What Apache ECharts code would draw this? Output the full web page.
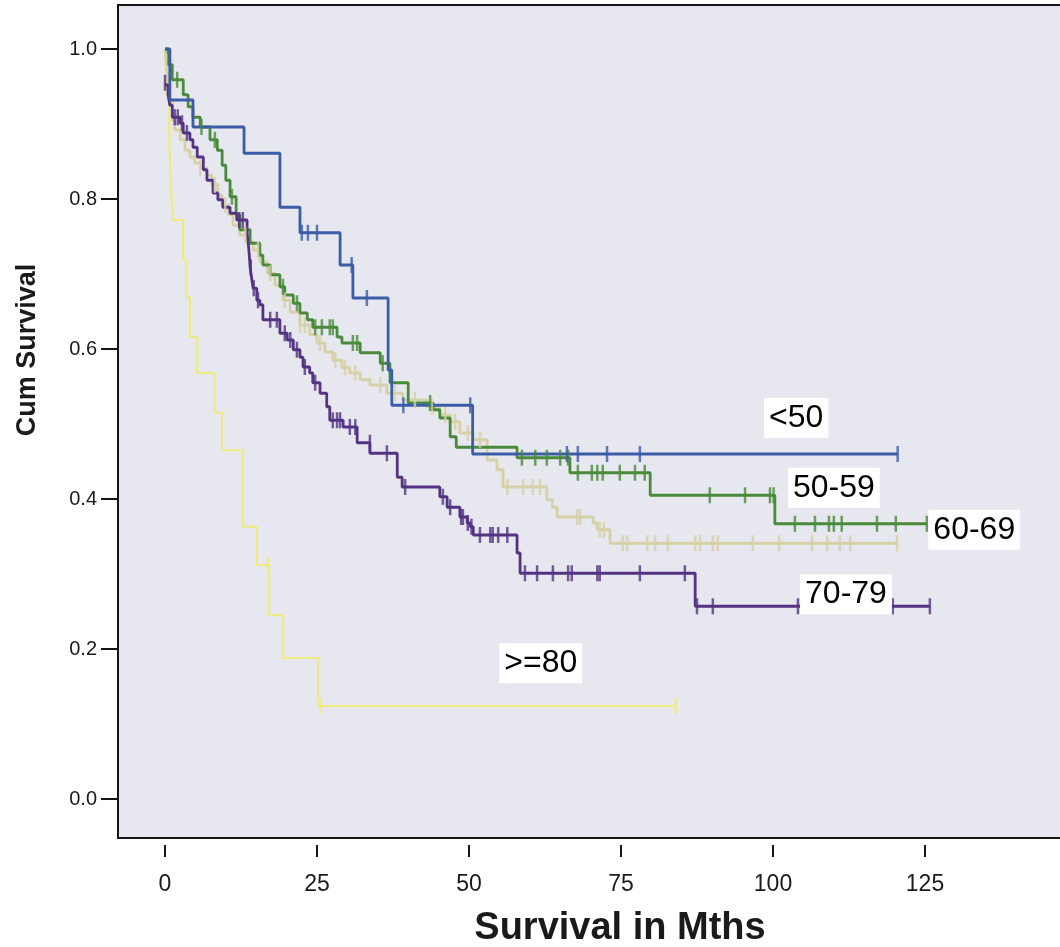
<!DOCTYPE html>
<html>
<head>
<meta charset="utf-8">
<script src="https://cdn.jsdelivr.net/npm/echarts@6/dist/echarts.min.js"></script>
<style>
html, body { margin: 0; background: #fff; }
#km { width: 1060px; height: 947px; }
</style>
</head>
<body>
<div id="km"></div>
<script>
// Kaplan-Meier steps: [month, cum survival from that month on]
var under50Steps = [[0, 1.0], [0.8, 0.932], [4.6, 0.896], [13.0, 0.861], [18.9, 0.789], [22.2, 0.755], [28.8, 0.712], [30.9, 0.668], [36.7, 0.572], [37.3, 0.525], [50.6, 0.46]]
var under50End = 120.5
var under50Cens = [[22.5, .755], [23.5, .755], [25.0, .755], [30.7, .712], [33.2, .668], [39.2, .525], [50.2, .525], [66.1, .46], [67.9, .46], [72.7, .46], [78.1, .46], [120.5, .46]]

var g5059Steps = [[0, 1.0], [0.5, .979], [1.2, .959], [3.0, .939], [3.8, .923], [4.6, .909], [5.8, .896], [7.4, .879], [8.6, .865], [9.4, .845], [10.0, .825], [10.7, .803], [11.7, .779], [12.3, .759], [14.0, .741], [15.6, .725], [16.1, .712], [17.3, .699], [18.9, .683], [19.7, .672], [21.1, .661], [22.2, .648], [23.4, .639], [24.3, .629], [28.3, .616], [29.1, .608], [32.1, .595], [35.4, .581], [37.0, .555], [40.0, .528], [44.1, .519], [45.2, .508], [46.9, .483], [47.9, .469], [57.9, .455], [66.6, .435], [79.8, .405], [100.3, .367]]
var g5059End = 125.3
var g5059Cens = [[2.0, .959], [6.0, .896], [8.2, .879], [11.0, .803], [19.4, .683], [21.7, .661], [24.7, .629], [25.8, .629], [27.1, .629], [27.6, .629], [30.9, .608], [31.6, .608], [35.8, .581], [43.6, .528], [58.7, .455], [60.9, .455], [62.8, .455], [65.0, .455], [66.3, .455], [67.9, .435], [70.2, .435], [71.1, .435], [72.0, .435], [74.8, .435], [77.3, .435], [78.9, .435], [89.6, .405], [95.4, .405], [99.5, .405], [100.1, .405], [103.6, .367], [106.9, .367], [109.2, .367], [110.0, .367], [111.3, .367], [117.1, .367], [120.2, .367], [125.3, .367]]

var g6069Steps = [[0, 1.0], [0.2, .983], [0.5, .959], [0.8, .932], [1.2, .905], [1.6, .892], [2.5, .879], [3.3, .865], [4.1, .856], [4.9, .848], [5.8, .841], [6.9, .832], [7.7, .819], [8.7, .805], [9.4, .792], [10.4, .779], [11.2, .765], [12.3, .752], [13.5, .743], [14.5, .732], [15.6, .716], [16.8, .701], [18.1, .685], [19.4, .665], [20.6, .649], [22.2, .632], [23.8, .619], [25.0, .608], [26.3, .596], [27.6, .585], [29.1, .575], [30.4, .568], [32.1, .559], [33.7, .552], [36.5, .541], [39.1, .532], [43.1, .523], [45.2, .512], [46.9, .503], [48.5, .488], [50.7, .479], [53.0, .452], [54.6, .439], [55.6, .416], [62.8, .399], [63.7, .389], [64.5, .376], [70.4, .368], [71.1, .359], [73.2, .341]]
var g6069End = 120.4
var g6069Cens = [[0.2, .983], [5.8, .841], [8.2, .819], [9.9, .792], [13.2, .752], [15.3, .732], [17.3, .701], [19.7, .665], [22.2, .632], [23.0, .632], [25.5, .608], [28.0, .585], [29.6, .575], [31.3, .568], [35.4, .552], [37.8, .541], [41.1, .532], [43.9, .523], [46.1, .512], [47.7, .503], [49.8, .488], [51.8, .479], [56.3, .416], [58.9, .416], [60.5, .416], [61.7, .416], [67.8, .376], [68.3, .376], [71.5, .359], [72.2, .359], [75.3, .341], [76.0, .341], [79.3, .341], [80.6, .341], [82.7, .341], [87.2, .341], [88.0, .341], [90.1, .341], [90.9, .341], [96.7, .341], [101.0, .341], [106.4, .341], [108.9, .341], [111.0, .341], [112.7, .341], [120.4, .341]]

var g7079Steps = [[0, .952], [0.5, .939], [0.8, .925], [1.2, .909], [2.5, .901], [3.0, .888], [4.1, .879], [4.6, .869], [5.3, .856], [6.3, .839], [6.9, .825], [7.9, .808], [8.7, .799], [9.5, .789], [10.7, .781], [11.8, .772], [13.5, .755], [13.8, .732], [14.0, .709], [14.3, .692], [14.5, .681], [15.1, .665], [15.6, .659], [16.1, .639], [18.9, .621], [20.1, .612], [21.1, .599], [22.2, .589], [22.7, .576], [23.8, .568], [24.3, .555], [25.5, .541], [26.6, .523], [27.1, .505], [29.3, .496], [31.6, .475], [33.7, .461], [38.2, .429], [39.0, .416], [45.2, .403], [46.4, .389], [48.5, .376], [49.7, .368], [50.2, .363], [50.7, .352], [57.9, .328], [58.4, .301], [87.2, .257]]
var g7079End = 125.8
var g7079Cens = [[0, .955], [1.6, .909], [2.1, .909], [2.8, .901], [3.6, .888], [12.2, .772], [12.8, .772], [14.1, .709], [14.6, .681], [15.3, .665], [17.3, .639], [18.4, .639], [19.7, .621], [20.6, .612], [21.7, .599], [23.0, .576], [24.7, .555], [27.6, .505], [28.3, .505], [28.8, .505], [30.4, .496], [31.3, .496], [33.7, .475], [36.5, .461], [39.5, .416], [45.7, .403], [46.9, .389], [48.7, .376], [49.0, .376], [49.8, .368], [50.4, .363], [51.8, .352], [53.5, .352], [53.9, .352], [54.8, .352], [56.3, .352], [59.2, .301], [61.2, .301], [63.8, .301], [66.3, .301], [66.9, .301], [71.1, .301], [71.5, .301], [78.1, .301], [85.5, .301], [87.5, .257], [90.1, .257], [104.1, .257], [119.7, .257], [125.8, .257]]

var ge80Steps = [[0, 1.0], [0.3, .937], [0.7, .875], [1.0, .812], [1.3, .772], [3.0, .719], [3.5, .669], [4.1, .616], [5.3, .568], [8.2, .515], [9.4, .465], [12.8, .363], [15.1, .312], [17.1, .245], [19.4, .188], [25.2, .124]]
var ge80End = 84.0
var ge80Cens = [[16.9, .312], [25.6, .124], [84.0, .124]]

// group labels placed on the plot [month, survival]
var groupLabels = ['<50', '50-59', '60-69', '70-79', '>=80']
var labelPos = [[103.8, .508], [110.0, .415], [133.1, .359], [112.0, .273], [61.8, .181]]

var xTicks = [0, 25, 50, 75, 100, 125]
var yTicks = [0, 0.2, 0.4, 0.6, 0.8, 1.0]

var xMin = -7.73, xMax = 147.2
var yMin = -0.052, yMax = 1.0587

function kmSeries(name, steps, end, cens, color, width) {
    let last = steps[steps.length - 1][1]
    return [
        {
            name: name,
            type: 'line',
            step: 'end',
            showSymbol: false,
            data: steps.concat([[end, last]]),
            lineStyle: { color: color, width: width },
            z: 2
        },
        {
            name: name,
            type: 'scatter',
            symbol: 'rect',
            symbolSize: [2.5, 16],
            data: cens,
            itemStyle: { color: color },
            z: 2
        }
    ]
}

var dom = document.getElementById('km')
var myChart = echarts.init(dom)

var series = []
    .concat(kmSeries('>=80', ge80Steps, ge80End, ge80Cens, '#efeb7e', 2.2))
    .concat(kmSeries('60-69', g6069Steps, g6069End, g6069Cens, '#d6d1a6', 2.8))
    .concat(kmSeries('50-59', g5059Steps, g5059End, g5059Cens, '#4a8b3b', 2.8))
    .concat(kmSeries('70-79', g7079Steps, g7079End, g7079Cens, '#553383', 2.8))
    .concat(kmSeries('<50', under50Steps, under50End, under50Cens, '#3b5ca7', 2.8))

series.push({
    type: 'scatter',
    symbolSize: 0,
    itemStyle: { color: '#ffffff', opacity: 1 },
    data: labelPos.map(function (p, i) { return [p[0], p[1], groupLabels[i]] }),
    label: {
        show: true,
        position: 'inside',
        formatter: function (p) { return p.value[2] },
        fontFamily: 'Liberation Sans, Arial, sans-serif',
        fontSize: 32,
        color: '#000000',
        opacity: 1,
        backgroundColor: '#ffffff',
        padding: [5, 5, 3, 5]
    },
    emphasis: { disabled: true },
    z: 5
})

var frameLine = { show: true, onZero: false, lineStyle: { color: '#151515', width: 2 } }

var option = {
    animation: false,
    backgroundColor: '#ffffff',
    grid: {
        left: 118, top: 5, right: 0, bottom: 109,
        show: true,
        backgroundColor: '#e6e7ef',
        borderWidth: 0
    },
    xAxis: [
        {
            type: 'value',
            min: xMin,
            max: xMax,
            position: 'bottom',
            offset: 7,
            axisLine: { show: false, onZero: false },
            splitLine: { show: false },
            axisTick: { show: true, length: 12, customValues: xTicks, lineStyle: { color: '#151515', width: 2 } },
            axisLabel: {
                customValues: xTicks,
                margin: 28,
                fontFamily: 'Liberation Sans Narrow, Arial Narrow, sans-serif',
                fontSize: 23,
                color: '#1a1a1a'
            }
        },
        {
            type: 'value', min: xMin, max: xMax, position: 'bottom',
            axisLine: frameLine, axisTick: { show: false }, axisLabel: { show: false }, splitLine: { show: false }
        },
        {
            type: 'value', min: xMin, max: xMax, position: 'top',
            axisLine: frameLine, axisTick: { show: false }, axisLabel: { show: false }, splitLine: { show: false }
        }
    ],
    yAxis: {
        type: 'value',
        min: yMin,
        max: yMax,
        axisLine: frameLine,
        splitLine: { show: false },
        axisTick: { show: true, length: 17, customValues: yTicks, lineStyle: { color: '#151515', width: 2 } },
        axisLabel: {
            customValues: yTicks,
            margin: 21,
            fontFamily: 'Liberation Sans, Arial, sans-serif',
            fontSize: 20,
            color: '#1a1a1a',
            formatter: function (v) { return v.toFixed(1) }
        }
    },
    graphic: [
        {
            type: 'text',
            x: 620, y: 929,
            style: {
                text: 'Survival in Mths',
                font: 'bold 38px "Liberation Sans Narrow", "Arial Narrow", sans-serif',
                fill: '#1a1a1a',
                align: 'center',
                verticalAlign: 'middle'
            }
        },
        {
            type: 'text',
            x: 28, y: 350,
            rotation: Math.PI / 2,
            style: {
                text: 'Cum Survival',
                font: 'bold 27px "Liberation Sans Narrow", "Arial Narrow", sans-serif',
                fill: '#1a1a1a',
                align: 'center',
                verticalAlign: 'middle'
            }
        }
    ],
    series: series
}
myChart.setOption(option)
</script>
</body>
</html>
